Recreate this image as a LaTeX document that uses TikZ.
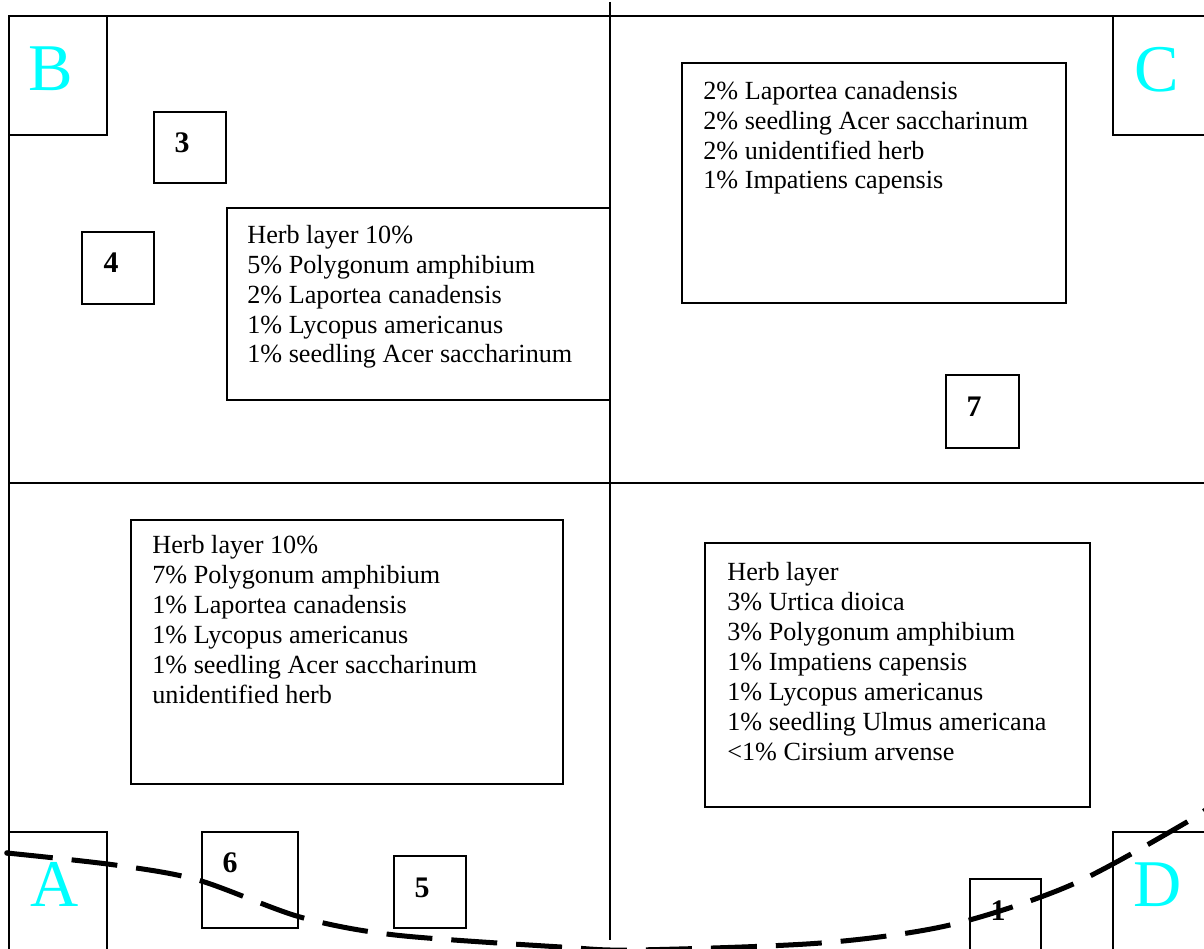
\documentclass[tikz,border=0pt]{standalone}
\usepackage{fontspec}
\setmainfont{Liberation Serif}
\usepackage{tikz}
\definecolor{quadcyan}{RGB}{0,255,255}

\begin{document}
\begin{tikzpicture}[x=0.02cm, y=-0.02cm,
    frame/.style={line width=1pt},
    corner/.style={text=quadcyan, font=\fontsize{38}{40}\selectfont, inner sep=0pt, anchor=base},
    plotnum/.style={font=\fontsize{17}{20}\selectfont\bfseries, inner sep=0pt, anchor=base},
    herbtext/.style={font=\fontsize{14.9}{17.07}\selectfont, align=left, inner sep=0pt, anchor=base west}]
    \useasboundingbox (0,0) rectangle (1204,949);
    \clip (0,0) rectangle (1204,949);

    % Draw the quadrat frame
    \draw[frame] (9,960) -- (9,16) -- (1204,16);
    \draw[frame] (610,2) -- (610,940);
    \draw[frame] (9,483) -- (1204,483);

    % Draw the corner boxes
    \draw[frame] (9,16) rectangle (107,135);
    \draw[frame] (1113,16) rectangle (1220,135);
    \draw[frame] (9,832) rectangle (107,960);
    \draw[frame] (1113,832) rectangle (1220,960);
    \node[corner] (cornerB) at (51,91) {B};
    \node[corner] (cornerC) at (1157,92) {C};
    \node[corner] (cornerA) at (55,906) {A};
    \node[corner] (cornerD) at (1158,906) {D};

    % Draw the herb layer boxes (text placed at the baseline of its last line)
    \draw[frame] (227,208) rectangle (610,400);
    \node[herbtext] (herbB) at (247,363) {Herb layer 10\%\\5\% Polygonum amphibium\\2\% Laportea canadensis\\1\% Lycopus americanus\\1\% seedling Acer saccharinum};

    \draw[frame] (682,63) rectangle (1066,303);
    \node[herbtext] (herbC) at (703,189) {2\% Laportea canadensis\\2\% seedling Acer saccharinum\\2\% unidentified herb\\1\% Impatiens capensis};

    \draw[frame] (131,520) rectangle (563,784);
    \node[herbtext] (herbA) at (152,703) {Herb layer 10\%\\7\% Polygonum amphibium\\1\% Laportea canadensis\\1\% Lycopus americanus\\1\% seedling Acer saccharinum\\unidentified herb};

    \draw[frame] (705,543) rectangle (1090,807);
    \node[herbtext] (herbD) at (727,760) {Herb layer\\3\% Urtica dioica\\3\% Polygonum amphibium\\1\% Impatiens capensis\\1\% Lycopus americanus\\1\% seedling Ulmus americana\\<1\% Cirsium arvense};

    % Draw the numbered plots
    \draw[frame] (154,112) rectangle (226,183);
    \node[plotnum] (plot3) at (182,153) {3};
    \draw[frame] (82,232) rectangle (154,304);
    \node[plotnum] (plot4) at (111,273) {4};
    \draw[frame] (946,375) rectangle (1019,448);
    \node[plotnum] (plot7) at (974,417) {7};
    \draw[frame] (202,832) rectangle (298,928);
    \node[plotnum] (plot6) at (230,872) {6};
    \draw[frame] (394,856) rectangle (466,928);
    \node[plotnum] (plot5) at (422,897) {5};
    \draw[frame] (970,879) rectangle (1041,960);
    \node[plotnum] (plot1) at (998,920) {1};

    % Draw the dashed boundary line
    \coordinate (edgestart) at (7,853);
    \fill (edgestart) circle (2.8);
    \draw[line width=2.85pt, dash pattern=on 0.92cm off 0.38cm]
        plot[smooth, tension=0.5] coordinates {(7,853) (115,865) (198,880) (300,917) (395,935) (561,947) (635,950) (821,943) (950,925) (1071,885) (1187,822) (1215,802)};
\end{tikzpicture}
\end{document}
